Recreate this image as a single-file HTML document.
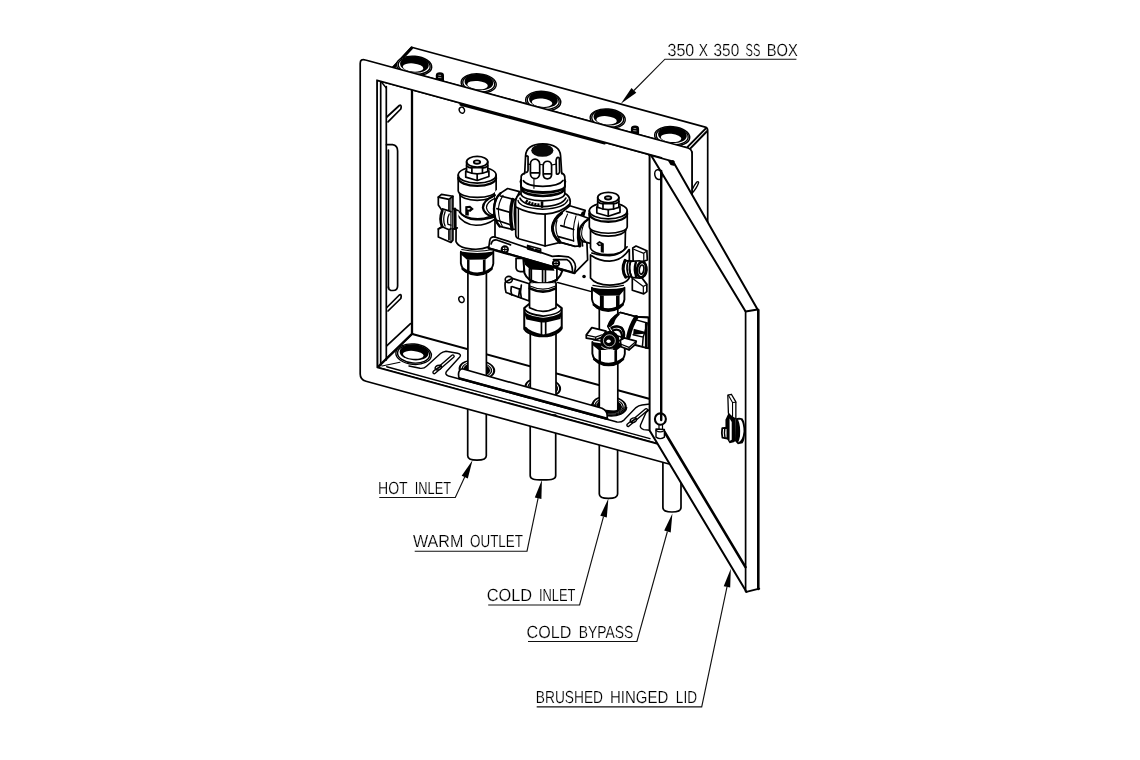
<!DOCTYPE html>
<html>
<head>
<meta charset="utf-8">
<title>350 x 350 SS Box</title>
<style>
html,body{margin:0;padding:0;background:#fff;}
body{width:1140px;height:760px;overflow:hidden;font-family:"Liberation Sans",sans-serif;}
svg{display:block;transform:translateZ(0);will-change:transform;}
.k{stroke:#000;stroke-width:1.7;fill:none;stroke-linecap:round;stroke-linejoin:round;}
.w{stroke:#000;stroke-width:1.7;fill:#fff;stroke-linecap:round;stroke-linejoin:round;}
.t{stroke:#000;stroke-width:1.4;fill:none;stroke-linecap:round;stroke-linejoin:round;}
.tw{stroke:#000;stroke-width:1.4;fill:#fff;stroke-linecap:round;stroke-linejoin:round;}
.b{stroke:#000;stroke-width:2.3;fill:none;stroke-linecap:round;stroke-linejoin:round;}
.f{fill:#000;stroke:none;}
.k,.w,.t,.tw,.b{vector-effect:non-scaling-stroke;}
.ld{stroke:#111;stroke-width:1.15;fill:none;}
.lb{-webkit-font-smoothing:antialiased;text-rendering:geometricPrecision;font-family:"Liberation Sans",sans-serif;font-size:17.5px;fill:#000;stroke:#fff;stroke-width:0.18;}
</style>
</head>
<body>
<svg width="1140" height="760" viewBox="0 0 1140 760">
<defs><filter id="gs" x="0" y="0" width="1140" height="760" filterUnits="userSpaceOnUse"><feColorMatrix type="saturate" values="0"/></filter></defs>
<rect x="0" y="0" width="1140" height="760" fill="#fff"/>

<!-- ===== BOX OUTER TOP FACE + RIGHT WALL ===== -->
<g id="boxtop">
<path class="w" d="M392.5,67.5 L411.6,47.2 L705.3,127.1 Q707.7,127.8 707.7,130.5 L707.7,225 L692,200 L692,152 L688,148 Z"/>
<path class="k" d="M687.6,146.9 L705.6,128.6" style="stroke-width:2"/>
<path class="k" d="M393.2,68 L411.8,48" style="stroke-width:2.6"/>
<path class="k" d="M690.2,148.6 L707,131.2" style="stroke-width:2"/>
</g>
<g id="gtop">
<path class="f" d="M435.8,81.6 L435.8,75.6 Q435.8,72.3 439.9,72.3 Q444.0,72.3 444.0,75.6 L444.0,81.6 Z"/><path d="M438.4,75.2 L441.1,75.4 M438.1,77.4 L441.4,77.7" stroke="#bbb" stroke-width="0.8" fill="none"/>
<path class="f" d="M630.9,134.8 L630.9,128.8 Q630.9,125.5 635.0,125.5 Q639.1,125.5 639.1,128.8 L639.1,134.8 Z"/><path d="M633.5,128.4 L636.2,128.6 M633.2,130.6 L636.5,130.9" stroke="#bbb" stroke-width="0.8" fill="none"/>
<g transform="translate(414.2,65.9) rotate(5) scale(1.0)"><ellipse class="tw" cx="0" cy="0" rx="17.6" ry="9.7"/><ellipse class="t" cx="0" cy="-0.2" rx="16" ry="8.6"/><ellipse class="f" cx="0.1" cy="-1.3" rx="14.4" ry="8"/><ellipse cx="-1" cy="1.7" rx="10.3" ry="4.1" fill="#fff"/></g>
<g transform="translate(478.7,83.5) rotate(5) scale(1.0)"><ellipse class="tw" cx="0" cy="0" rx="17.6" ry="9.7"/><ellipse class="t" cx="0" cy="-0.2" rx="16" ry="8.6"/><ellipse class="f" cx="0.1" cy="-1.3" rx="14.4" ry="8"/><ellipse cx="-1" cy="1.7" rx="10.3" ry="4.1" fill="#fff"/></g>
<g transform="translate(543.2,101.1) rotate(5) scale(1.0)"><ellipse class="tw" cx="0" cy="0" rx="17.6" ry="9.7"/><ellipse class="t" cx="0" cy="-0.2" rx="16" ry="8.6"/><ellipse class="f" cx="0.1" cy="-1.3" rx="14.4" ry="8"/><ellipse cx="-1" cy="1.7" rx="10.3" ry="4.1" fill="#fff"/></g>
<g transform="translate(607.7,118.7) rotate(5) scale(1.0)"><ellipse class="tw" cx="0" cy="0" rx="17.6" ry="9.7"/><ellipse class="t" cx="0" cy="-0.2" rx="16" ry="8.6"/><ellipse class="f" cx="0.1" cy="-1.3" rx="14.4" ry="8"/><ellipse cx="-1" cy="1.7" rx="10.3" ry="4.1" fill="#fff"/></g>
<g transform="translate(672.2,136.3) rotate(5) scale(1.0)"><ellipse class="tw" cx="0" cy="0" rx="17.6" ry="9.7"/><ellipse class="t" cx="0" cy="-0.2" rx="16" ry="8.6"/><ellipse class="f" cx="0.1" cy="-1.3" rx="14.4" ry="8"/><ellipse cx="-1" cy="1.7" rx="10.3" ry="4.1" fill="#fff"/></g>
</g>

<!-- ===== INTERIOR ===== -->
<g id="interior">
<path class="w" d="M377,80.2 L673.7,161.2 L673.7,448 L377.5,367.5 Z"/>
<!-- left wall verticals -->
<path class="k" d="M380.7,82 L380.7,365.5"/>
<path class="k" d="M386.3,86.5 L386.3,360"/><path class="t" d="M381,81.5 L386.3,88"/>
<path class="b" d="M412,91 L412,333.5"/>
<!-- back-top thick edge -->
<path class="b" d="M460.5,104.6 L604.5,143.4" style="stroke-width:2.2"/>
<!-- back-bottom edge -->
<path class="b" d="M412.3,334 L650,399" style="stroke-width:2"/>
<!-- floor left depth edge -->
<path class="k" d="M377.8,367.2 L412.3,333.7" style="stroke-width:2.3"/>
<path class="t" d="M386.2,359 L412.3,333.7"/>
</g>
<g id="intdet">
<ellipse class="t" cx="461.9" cy="110.2" rx="2.6" ry="3.1" transform="rotate(-25 461.9 110.2)"/>
<ellipse class="t" cx="461.5" cy="299.5" rx="2.6" ry="3.1" transform="rotate(-25 461.5 299.5)"/>
<path class="k" d="M386.5,144.7 L392.5,144.7 Q397.6,145.5 397.6,151 L397.6,286 Q397.6,290.5 393,290.5 L390.5,290.3 Q388.4,289.5 388.4,287"/>
<path class="k" d="M388.4,150 L388.4,288"/>
<path class="k" d="M386.8,117 L399.3,105.5 Q401.2,104.5 401.2,107 L400.8,109 L388,121.8"/>
<path class="k" d="M386.8,307.5 L399.3,295 Q401.2,293.8 401.2,296.5 L400.8,298.5 L388,311"/>
<path class="k" d="M386.7,345.9 L410.5,323.7"/>
<path class="t" d="M382,366 L400,362.2" style="stroke-width:1.1"/>
<g transform="translate(413.6,354.2) rotate(5)"><ellipse class="tw" cx="0" cy="0" rx="17.8" ry="10.2"/><ellipse class="t" cx="0" cy="-0.2" rx="16.1" ry="9"/><ellipse class="f" cx="0.3" cy="-1.6" rx="14.4" ry="7.7"/><ellipse cx="-0.3" cy="0.6" rx="10.4" ry="3.9" fill="#fff"/></g>
<path class="t" d="M409,366 L420,368.3 Q424,368.8 426.5,366.3 L440.5,353.6 Q442.5,351.8 446,351.2 L457.5,353.2 Q462,354.3 459.5,357.3 L446.5,371.5 Q444.5,374.5 448.5,376 L617,422.0 Q621,422.6 624,420.1 L636,407.6 Q638.5,405.4 642,405 L650,404"/>
<path class="t" d="M650,409.5 Q647.5,410.5 646,412.5 L640.5,425 Q639.5,428.3 643.7,429.6 L650,430.2"/>
<path class="t" d="M386.7,366.7 L650,438.6"/>
<path class="t" d="M435.2,373.3 L453.7,357.3 A1.3,1.3 0 0 0 451.9,355.3 L433.4,371.3 A1.3,1.3 0 0 0 435.2,373.3 Z"/>
<ellipse class="tw" cx="438.3" cy="367.6" rx="3.3" ry="2.2" transform="rotate(-20 438.3 367.6)"/><path class="k" d="M436,369.5 L441,366"/>
<path class="t" d="M628.8,426.3 L647.2,410.8 A1.3,1.3 0 0 0 645.6,408.8 L627.2,424.3 A1.3,1.3 0 0 0 628.8,426.3 Z"/>
<ellipse class="tw" cx="633.4" cy="420.2" rx="3.3" ry="2.2" transform="rotate(-20 633.4 420.2)"/><path class="k" d="M631,422 L636,418.5"/>
<g transform="rotate(5 476.9 369.6)"><ellipse class="f" cx="476.9" cy="369.6" rx="18.4" ry="10.2"/><ellipse cx="476.9" cy="369.6" rx="15.799999999999999" ry="8.4" fill="none" stroke="#fff" stroke-width="1.0"/><ellipse cx="476.9" cy="369.6" rx="13.799999999999999" ry="7.0" fill="none" stroke="#fff" stroke-width="0.7"/></g>
<g transform="rotate(5 542.8 387.6)"><ellipse class="f" cx="542.8" cy="387.6" rx="18.4" ry="10.2"/><ellipse cx="542.8" cy="387.6" rx="15.799999999999999" ry="8.4" fill="none" stroke="#fff" stroke-width="1.0"/><ellipse cx="542.8" cy="387.6" rx="13.799999999999999" ry="7.0" fill="none" stroke="#fff" stroke-width="0.7"/></g>
<g transform="rotate(5 609.2 405.8)"><ellipse class="f" cx="609.2" cy="405.8" rx="17.6" ry="10.2"/><ellipse cx="609.2" cy="405.8" rx="15.000000000000002" ry="8.4" fill="none" stroke="#fff" stroke-width="1.0"/><ellipse cx="609.2" cy="405.8" rx="13.000000000000002" ry="7.0" fill="none" stroke="#fff" stroke-width="0.7"/></g>
</g>
<!--VALVES_START--><g id="valves">
<g id="pipes_in">
<path class="w" d="M467.9,270 L467.9,382 L486.4,382 L486.4,270 Z" style="stroke:none"/><path class="k" d="M467.9,270 L467.9,378 M486.4,270 L486.4,383"/>
<path class="w" d="M530.3,283 L530.3,400 L556,400 L556,283 Z" style="stroke:none"/><path class="k" d="M530.3,283 L530.3,397 M556,283 L556,404"/>
<path class="w" d="M599.3,305 L599.3,409 L617.8,411 L617.8,305 Z" style="stroke:none"/><path class="k" d="M599.3,305 L599.3,408 M617.8,305 L617.8,410.5"/><g transform="rotate(5 609.2 405.8)"><path d="M591.6,405.8 A17.6,10.2 0 0 0 626.8,405.8" class="k" style="stroke-width:1.3"/><path d="M594.2,405.8 A15,8.4 0 0 0 624.2,405.8" class="k" style="stroke-width:1.1"/><path d="M597.6,406 A11.6,6.2 0 0 0 620.8,406" class="b" style="stroke-width:2.4"/></g>
</g>
<g transform="translate(0,0)">
<g transform="translate(430,235) scale(0.088183)" >

<path d="M350,150 L350,320 Q362,385 410,420 Q470,455 535,455 Q600,455 660,420 Q708,385 718,325 L718,150 Z" fill="#fff"/>
<path class="k" d="M360,165 Q535,205 708,165" style="stroke-width:1.1"/>
<path class="f" d="M350,188 Q535,222 718,188 L718,214 L630,279 L420,281 L352,222 Z"/>
<path class="f" d="M420,278 L448,282 L448,432 L420,420 Z M600,282 L630,278 L630,420 L600,432 Z"/>
<path class="b" d="M372,384 Q450,440 535,440 Q620,440 696,384" style="stroke-width:2.8"/>
<path class="k" d="M350,190 L350,320 Q362,385 410,420 Q470,455 535,455 Q600,455 660,420 Q708,385 718,325 L718,190" style="stroke-width:1.9"/>
</g>
<g transform="translate(430,190) scale(0.088183)" >

<path class="w" d="M340,20 L345,250 A197,85 0 0 0 737,250 L737,20 Z"/>
<path class="k" d="M335,37 A200,80 0 0 0 735,37"/>
<path class="w" d="M297,268 L295,585 Q330,668 520,672 Q680,668 737,590 L737,330 Q640,400 520,400 Q380,395 300,268 Z"/>
<path class="k" d="M322,238 Q400,335 520,337 Q650,335 722,308"/>
</g>
<g transform="translate(430,145) scale(0.088183)" >

<path class="w" d="M320,340 A215,92 0 0 1 750,340 L750,520 A215,74 0 0 1 320,520 Z"/>
<path class="k" d="M320,340 A215,92 0 0 0 750,340"/>
<path class="b" d="M321,374 A214,90 0 0 0 749,374"/>
<path class="w" d="M405,296 L405,365 L535,402 L668,357 L668,292 L655,300 L415,300 Z"/>
<path class="k" d="M535,330 L535,400"/>
<path class="w" d="M415,190 A120,60 0 0 1 655,190 L655,300 Q600,327 535,327 Q470,327 415,300 Z"/>
<path class="k" d="M415,190 A120,60 0 0 0 655,190"/>
<path class="k" d="M415,236 Q445,264 475,258 L595,258 Q625,264 655,236"/>
<path class="k" d="M475,258 L475,318 M595,258 L595,318"/>
<ellipse class="k" cx="533" cy="193" rx="36" ry="19" style="stroke-width:1.9"/>
</g>
</g>
<g transform="translate(430,190) scale(0.088183)" >

<path class="w" d="M737,20 L737,330 L800,330 L800,-40 Z" style="stroke:none"/>
<path class="b" d="M735,60 Q600,120 600,200 Q610,280 722,305"/>
<path class="k" d="M735,95 Q640,140 640,200 Q650,260 722,290" style="stroke-width:1.2"/>
</g>
<g transform="translate(432,188) scale(0.078927)" >

<path class="w" d="M80,115 L120,80 L265,105 L265,660 L240,690 L80,622 L80,520 L130,490 Q90,400 130,290 L80,215 Z"/>
<path class="k" d="M80,115 L215,145 L265,105 M215,145 L215,290 L130,265 M215,290 L240,300"/>
<path class="k" d="M80,520 L130,490 L215,530 L215,655 M215,530 L240,515"/>
<path class="k" d="M240,135 L240,690" style="stroke-width:1.2"/>
<path class="b" d="M130,288 Q88,400 130,492" style="stroke-width:2.8"/>
<path class="k" d="M166,300 Q130,400 166,482" style="stroke-width:1.3"/>
<path class="k" d="M218,330 Q185,400 204,462 L240,470" style="stroke-width:1.3"/>
<path class="w" d="M265,262 L335,282 L335,500 L265,520 Z" style="stroke:none"/>
<path class="b" d="M290,268 L292,512" style="stroke-width:3.2"/>
<path class="k" d="M265,262 L330,285 M265,520 L320,505"/>
</g>
<g transform="translate(430,190) scale(0.088183)" >

<path class="f" d="M400,185 L455,178 L497,215 L455,250 L440,240 L440,290 L400,290 Z"/>
<path d="M425,205 L460,208 L445,225 L425,222 Z" fill="#fff"/>
</g>
<g transform="translate(485,232) scale(0.105263)" >

<path class="w" d="M295,250 L295,340 Q300,372 335,376 L370,376 L370,250 Z"/>
<path class="w" d="M430,440 L430,760 L668,760 L668,440 Z"/>
<path class="k" d="M432,482 Q545,560 666,486"/>
<path class="b" d="M434,548 Q545,625 666,552" style="stroke-width:2.4"/>
<path class="w" d="M365,262 L375,390 Q390,430 420,450 Q480,490 545,490 Q620,488 680,455 Q720,420 735,368 L690,345 Z" style="stroke-width:2"/>
<path class="f" d="M365,258 L650,340 L660,368 L430,356 L380,310 Z"/>
<path class="k" d="M422,350 L422,448 M440,352 L440,458 M547,362 L547,488 M574,362 L574,486 M683,355 L683,452"/>
<path class="b" d="M420,450 Q480,490 545,490 Q620,488 680,455"/>
</g>
<g transform="translate(485,232) scale(0.105263)" >

<path class="w" d="M192,478 Q186,525 200,575 L420,655 L420,492 L258,440 Z"/>
<ellipse class="b" cx="226" cy="452" rx="34" ry="30" style="stroke-width:1.6" fill="#fff"/>
<path class="k" d="M250,520 Q240,560 255,598 M330,540 L318,620 M262,520 L335,545 M345,505 Q330,570 345,628"/>
</g>
<g transform="translate(500,285) scale(0.088183)" >

<path class="w" d="M330,215 L275,262 L275,500 Q300,545 400,572 Q490,592 580,572 Q670,545 700,492 L700,262 L640,215 Z" style="stroke-width:2"/>
<path class="k" d="M278,268 Q300,332 490,352 Q680,332 698,268"/>
<path class="f" d="M280,292 Q300,352 490,370 Q680,352 697,292 L697,335 L685,385 L520,425 L465,425 L300,392 L280,335 Z"/>
<path class="k" d="M470,425 L470,566 M518,425 L518,563"/>
<path class="b" d="M290,488 Q330,545 490,575 Q650,545 692,483" style="stroke-width:2.4"/>
<path class="w" d="M335,-20 L335,258 Q490,338 635,258 L635,-20 Z" style="stroke:none"/>
<path class="k" d="M335,-20 L335,258 Q490,338 635,258 L635,-20"/>
<path class="b" d="M338,38 Q490,112 632,38" style="stroke-width:2.6"/>
<path class="k" d="M338,12 Q490,80 632,12" style="stroke-width:1.2"/>
</g>
<g transform="translate(485,232) scale(0.105263)" >

<path class="k" d="M850,390 L975,265 L968,95"/>
<circle cx="941" cy="423" r="17" fill="#000"/>
<path class="t" d="M690,480 L1135,600"/>
<path class="w" d="M35,152 L45,82 Q50,42 92,48 L232,92 L640,232 L700,226 L790,236 Q855,265 860,330 L850,390 Z"/>
<path class="k" d="M58,114 Q68,72 112,76 L242,122 M650,262 L780,263 Q828,285 832,372"/>
<path class="b" d="M35,155 L850,390"/>
<circle class="b" cx="188" cy="166" r="30" style="stroke-width:2"/><path class="k" d="M188,140 L188,192 M162,166 L214,166" style="stroke-width:1.1"/>
<circle class="b" cx="675" cy="298" r="30" style="stroke-width:2"/><path class="k" d="M675,272 L675,324 M649,298 L701,298" style="stroke-width:1.1"/>
<path class="k" d="M405,128 L528,162 L528,196 L405,160 Z"/>
<path class="k" d="M420,150 L455,160 M480,168 L515,178" style="stroke-width:2"/>
</g>
<g transform="translate(490,185) scale(0.088183)" >

<path class="w" d="M120,92 L200,40 L335,75 L292,170 L292,500 L255,505 L110,470 Q45,400 45,270 Q52,150 120,92 Z"/>
<path class="b" d="M120,92 Q52,150 45,270 Q45,400 110,470"/>
<path class="k" d="M118,125 L285,168 M78,268 L232,312 M78,400 L232,452"/>
<path class="k" d="M148,118 Q95,200 95,290 Q100,400 140,468" style="stroke-width:1.1"/>
<path class="b" d="M258,165 Q215,300 250,500" style="stroke-width:3.4"/>
<path class="k" d="M290,160 Q262,320 292,500"/>
</g>
<g transform="translate(490,185) scale(0.088183)" >

<path class="w" d="M290,190 Q295,120 352,95 L848,95 Q905,120 910,190 Q905,255 845,290 L845,640 L625,692 L335,612 Q292,600 292,560 Z"/>
<path class="k" d="M292,250 Q450,332 625,330 Q800,322 908,215"/>
<path class="t" d="M318,175 Q330,260 600,275 Q850,262 882,170"/>
<path class="k" d="M340,150 Q380,235 600,245 Q820,232 860,148"/>
<path class="k" d="M625,330 L625,692"/>
<path class="t" d="M322,268 L322,603"/>
<path class="k" d="M845,290 L845,640"/>
<path d="M405,180 Q470,222 560,228" stroke="#000" stroke-width="3.2" fill="none" stroke-dasharray="2.2 0.9" vector-effect="non-scaling-stroke"/>
<path class="b" d="M590,198 L590,246" style="stroke-width:2.6"/>
</g>
<g transform="translate(490,185) scale(0.088183)" >

<path class="w" d="M352,-60 L352,100 A248,80 0 0 0 848,100 L848,-60 Z"/>
<path class="b" d="M354,-40 A246,75 0 0 0 846,-40" style="stroke-width:3.4"/>
<path class="b" d="M358,8 A242,75 0 0 0 842,8" style="stroke-width:3.4"/>
<path class="b" d="M366,52 A234,72 0 0 0 834,52" style="stroke-width:2.6"/>
<path d="M670,72 L800,40" stroke="#fff" stroke-width="0.9" fill="none" vector-effect="non-scaling-stroke"/>
</g>
<g transform="translate(500,135) scale(0.088183)" >

<path d="M240,470 Q242,445 282,430 L700,430 Q733,445 735,475 L735,580 A248,72 0 0 1 240,575 Z" fill="#fff"/>
<path class="k" d="M282,432 Q242,445 240,470 L240,575 A248,72 0 0 0 735,580 L735,475 Q733,445 700,432"/>
<path d="M280,437 L290,235 Q295,105 485,100 Q680,105 687,235 L700,437 Z" fill="#fff"/>
<path class="k" d="M280,437 L290,235 Q295,105 485,100 Q680,105 687,235 L700,437"/>
<ellipse cx="480" cy="176" rx="126" ry="72" fill="#0a0a0a"/>
<path class="k" d="M265,518 Q300,580 485,583 Q670,580 715,516"/>
<path class="k" d="M292,245 Q305,228 318,245 L318,400 Q308,432 294,420"/>
<path class="k" d="M345,330 A52,55 0 0 1 450,330 L450,440 A52,55 0 0 1 345,440 Z M353,430 L442,430"/>
<path class="k" d="M490,342 A48,52 0 0 1 585,342 L585,453 A48,52 0 0 1 490,453 Z M497,440 L578,440"/>
<path class="k" d="M636,285 Q648,238 673,262 L676,420 Q662,455 640,440 Z"/>
<path class="k" d="M450,335 L490,338 M318,330 L345,335 M585,340 L636,330" style="stroke-width:1.1"/>
<path class="k" d="M385,497 L385,605" style="stroke-width:1.1"/>
</g>
<g transform="translate(490,185) scale(0.088183)" >

<path class="w" d="M845,285 L905,235 L1078,288 L1045,340 Q985,500 1020,690 L960,695 L790,648 Q700,560 705,480 Q720,370 800,320 Z"/>
<path class="b" d="M812,318 Q720,390 708,480 Q705,570 792,650" style="stroke-width:3.0"/>
<path class="k" d="M760,400 Q735,480 760,560 Q780,610 800,640" style="stroke-width:1.2"/>
<path class="k" d="M868,300 L1040,348 M803,460 L950,505 M775,585 L945,632 M790,648 L960,695"/>
<path class="b" d="M1055,320 Q975,500 1018,690" style="stroke-width:3.4"/>
<path class="k" d="M1078,290 Q1010,500 1050,690"/>
<path class="k" d="M880,330 Q840,400 838,470 M975,350 Q930,500 950,640" style="stroke-width:1.1"/>
</g>
<g transform="translate(560,185) scale(0.088183)" >

<path class="w" d="M200,330 L340,380 L340,650 L240,640 Z" style="stroke:none"/>
<path class="k" d="M205,335 L345,385"/>
<path class="b" d="M325,385 Q215,450 215,560 Q225,620 260,640"/>
<path class="k" d="M300,400 Q245,470 245,560 Q250,610 290,640" style="stroke-width:1.1"/>
<path class="k" d="M255,640 L345,662"/>
</g>
<g transform="translate(131.1,35.85)">
<g transform="translate(430,235) scale(0.088183)" >

<path d="M350,150 L350,320 Q362,385 410,420 Q470,455 535,455 Q600,455 660,420 Q708,385 718,325 L718,150 Z" fill="#fff"/>
<path class="k" d="M360,165 Q535,205 708,165" style="stroke-width:1.1"/>
<path class="f" d="M350,188 Q535,222 718,188 L718,214 L663,279 L440,281 L352,222 Z"/>
<path class="f" d="M440,278 L484,282 L484,432 L440,420 Z M623,282 L663,278 L663,420 L623,432 Z"/>
<path class="b" d="M372,384 Q450,440 535,440 Q620,440 696,384" style="stroke-width:2.8"/>
<path class="k" d="M350,190 L350,320 Q362,385 410,420 Q470,455 535,455 Q600,455 660,420 Q708,385 718,325 L718,190" style="stroke-width:1.9"/>
</g>
<g transform="translate(954.4,0) scale(-1,1)"><g transform="translate(430,190) scale(0.088183)" >

<path class="w" d="M340,20 L345,250 A197,85 0 0 0 737,250 L737,20 Z"/>
<path class="k" d="M335,37 A200,80 0 0 0 735,37"/>
<path class="w" d="M297,268 L295,585 Q330,668 520,672 Q680,668 737,590 L737,330 Q640,400 520,400 Q380,395 300,268 Z"/>
<path class="k" d="M322,238 Q400,335 520,337 Q650,335 722,308"/>
</g>
</g><g transform="translate(430,145) scale(0.088183)" >

<path class="w" d="M320,340 A215,92 0 0 1 750,340 L750,520 A215,74 0 0 1 320,520 Z"/>
<path class="k" d="M320,340 A215,92 0 0 0 750,340"/>
<path class="b" d="M321,374 A214,90 0 0 0 749,374"/>
<path class="w" d="M405,296 L405,365 L535,402 L668,357 L668,292 L655,300 L415,300 Z"/>
<path class="k" d="M535,330 L535,400"/>
<path class="w" d="M415,190 A120,60 0 0 1 655,190 L655,300 Q600,327 535,327 Q470,327 415,300 Z"/>
<path class="k" d="M415,190 A120,60 0 0 0 655,190"/>
<path class="k" d="M415,236 Q445,264 475,258 L595,258 Q625,264 655,236"/>
<path class="k" d="M475,258 L475,318 M595,258 L595,318"/>
<ellipse class="k" cx="533" cy="193" rx="36" ry="19" style="stroke-width:1.9"/>
</g>
</g>
<g transform="translate(560,235) scale(0.088183)" >

<path class="w" d="M735,290 Q690,390 745,475 L850,470 L850,300 Z"/>
<path class="b" d="M738,288 Q690,390 745,478" style="stroke-width:3"/>
<path class="k" d="M775,290 Q740,385 785,480"/>
<path class="w" d="M825,147 L862,125 L985,178 L990,282 L945,300 L905,330 L830,300 Z"/>
<path class="k" d="M836,162 L950,208 L985,180 M950,208 L950,296" style="stroke-width:1.2"/>
<path class="w" d="M820,487 L905,455 L985,560 L985,642 L950,668 L820,626 Z"/>
<path class="k" d="M832,500 L945,585 L945,660 M945,585 L985,562" style="stroke-width:1.2"/>
<path class="w" d="M800,300 Q770,390 815,480 L905,490 Q985,480 985,395 Q980,300 900,292 Z"/>
<path class="k" d="M800,300 Q770,390 815,480"/>
<ellipse class="b" cx="925" cy="392" rx="52" ry="88" transform="rotate(8 925 392)" style="stroke-width:2.6"/>
<ellipse class="k" cx="925" cy="392" rx="26" ry="52" transform="rotate(8 925 392)"/>
<path class="b" d="M860,310 Q835,390 865,475" style="stroke-width:2.4"/>
</g>
<g transform="translate(560,235) scale(0.088183)" >

<path class="f" d="M497,95 L497,202 L462,196 L462,122 L440,128 L410,96 L446,68 Z"/>
<path d="M435,92 L462,98 L462,108 L445,108 Z" fill="#fff"/>
</g>
<g transform="translate(131.5,90.3)"><g transform="translate(430,235) scale(0.088183)" >

<path d="M350,150 L350,320 Q362,385 410,420 Q470,455 535,455 Q600,455 660,420 Q708,385 718,325 L718,150 Z" fill="#fff"/>
<path class="k" d="M360,165 Q535,205 708,165" style="stroke-width:1.1"/>
<path class="f" d="M350,188 Q535,222 718,188 L718,214 L630,279 L420,281 L352,222 Z"/>
<path class="f" d="M420,278 L448,282 L448,432 L420,420 Z M600,282 L630,278 L630,420 L600,432 Z"/>
<path class="b" d="M372,384 Q450,440 535,440 Q620,440 696,384" style="stroke-width:2.8"/>
<path class="k" d="M350,190 L350,320 Q362,385 410,420 Q470,455 535,455 Q600,455 660,420 Q708,385 718,325 L718,190" style="stroke-width:1.9"/>
</g>
</g>
<g transform="translate(580,300) scale(0.078989)" >

<path class="w" d="M350,335 Q380,230 490,165 L515,158 L720,213 L865,215 L865,615 L700,575 L600,500 L400,420 Z" style="stroke-width:1.4"/>
<path class="f" d="M492,163 Q380,225 345,332 L380,345 L430,300 Q450,230 505,185 Z"/>
<path class="k" d="M515,158 L720,213 L865,225"/>
<path class="b" d="M712,218 Q640,330 612,468" style="stroke-width:4.4"/>
<path class="f" d="M680,365 L822,402 L815,428 L672,440 Z"/>
<path class="k" d="M722,255 L852,290 L822,402 L800,470 L790,590 M672,440 L800,470 M690,562 L790,590 L865,612" style="stroke-width:1.5"/>
<path class="b" d="M838,300 L838,600" style="stroke-width:2.6"/>
<path class="w" d="M80,442 L150,350 L330,395 L282,470 L200,503 L80,484 Z" style="stroke-width:1.8"/>
<path class="k" d="M82,446 L198,470 L280,440 M198,470 L200,503" style="stroke-width:1.3"/>
<path class="w" d="M510,510 L560,480 L712,520 L702,562 L622,632 L520,592 Z" style="stroke-width:1.8"/>
<path class="k" d="M520,560 L620,600 L705,528 M620,600 L622,632" style="stroke-width:1.3"/>
<path class="w" d="M395,350 Q470,310 530,350 Q575,400 555,480 L440,440 Z" style="stroke-width:1.2"/>
<path class="b" d="M402,352 Q470,318 525,352 Q568,400 552,470" style="stroke-width:2.6"/>
<path class="b" d="M420,385 Q470,362 508,392 Q540,430 528,490" style="stroke-width:2.2"/>
<circle cx="378" cy="512" r="122" fill="#000"/>
<circle cx="372" cy="516" r="76" fill="none" stroke="#fff" stroke-width="0.7" vector-effect="non-scaling-stroke"/>
<ellipse cx="362" cy="522" rx="27" ry="21" fill="#fff"/>
<path d="M270,585 Q330,640 420,622" stroke="#fff" stroke-width="0.9" fill="none" vector-effect="non-scaling-stroke"/>
</g>
</g>
<!--VALVES_END-->
<g id="rail">
<path class="w" d="M462.3,368.8 L602,408.3 Q607.2,410.9 607.2,415.7 L607.2,418.7 L459.5,378.4 Q458.5,377.2 458.5,374.2 Q458.6,369.8 462.3,368.8 Z"/>
<path class="b" d="M459.5,378.4 L607.2,418.7" style="stroke-width:2.5"/>
</g>

<!-- ===== PIPES BELOW BOX ===== -->
<g id="pipes">
<path class="w" d="M467.7,400 L467.7,455.70000000000005 C467.7,459.1 470.7,460.1 477.0,460.1 C483.3,460.1 486.3,459.1 486.3,455.70000000000005 L486.3,400 Z"/>
<path class="w" d="M530.2,415 L530.2,475.5 C530.2,478.9 533.2,479.9 542.95,479.9 C552.7,479.9 555.7,478.9 555.7,475.5 L555.7,415 Z"/>
<path class="w" d="M599.3,435 L599.3,494.0 C599.3,497.4 602.3,498.4 608.45,498.4 C614.6,498.4 617.6,497.4 617.6,494.0 L617.6,435 Z"/>
<path class="w" d="M662.9,450 L662.9,507.6 C662.9,511 665.9,512 671.95,512 C678,512 681,511 681,507.6 L681,450 Z"/>
</g>

<!-- ===== FLANGE (front frame) ===== -->
<g id="flange">
<path class="w" fill-rule="evenodd" d="M360.2,63.5 Q360.2,58.3 365.5,60 L688,148 Q692,149.3 692,153.5 L692,470 L666.3,463.2 L366,381.3 Q360.2,379.6 360.2,374 Z
 M377,80.2 L377.3,367.4 L661.5,444.9 L661.5,157.9 Z"/>
</g>

<!-- ===== DOOR ===== -->
<g id="door">
<path d="M650,155 L672.8,161 L757.3,309.3 L759.6,311.5 L759.4,588.8 L746.6,592 L650,431 Z" fill="#fff" stroke="none"/>
<path class="k" d="M672.8,161 L757.6,309.5" style="stroke-width:2"/>
<path class="k" d="M651.5,156 L745.6,311.6 L757.6,309.5" style="stroke-width:2"/>
<path class="k" d="M648.5,154.7 L673.8,161.6"/>
<path class="f" d="M667.5,160 L673.8,161.6 L674.6,166 L670.5,165 Z"/>
<path class="k" d="M745.6,311.6 L745.6,591.5"/>
<path class="k" d="M758.3,310 L758.3,589" style="stroke-width:2.6"/>
<path class="k" d="M746.3,591.8 L759.3,588.6" style="stroke-width:1.8"/>
<path class="k" d="M661.2,171 L661.2,420" style="stroke-width:2.4"/>
<path class="k" d="M664.3,431.5 L745.5,567.2" style="stroke-width:2.6"/>
<path class="k" d="M649.6,155 L649.6,430.5 L746.4,591.8" style="stroke-width:2"/>
<ellipse class="k" cx="658.4" cy="174.6" rx="3.6" ry="5" transform="rotate(-12 658.4 174.6)" style="stroke-width:1.5"/>
</g>
<g id="lock" transform="translate(700,370) scale(0.11834)">
<path class="w" d="M235,212 L265,205 L303,270 L303,412 L268,400 L240,365 Z" style="stroke-width:1.3"/>
<path class="k" d="M240,214 L275,275 L303,272 M275,275 L275,398" style="stroke-width:1.1"/>
<path class="f" d="M240,365 L215,420 L215,560 L250,620 L285,610 L300,600 L300,410 Z"/>
<path d="M250,410 L268,440 L268,590 L250,600 Z" fill="#fff"/>
<path class="f" d="M300,410 Q330,395 360,410 Q382,440 382,520 Q380,590 360,620 L320,628 L296,600 Z"/>
<path d="M322,420 Q345,470 338,560 Q330,600 322,612 Q360,600 368,520 Q368,450 345,420 Z" fill="#fff"/>
<path class="w" d="M188,492 Q180,530 190,572 L232,580 L232,488 Z" style="stroke-width:1.8"/>
<path class="k" d="M210,492 Q202,535 212,578" style="stroke-width:1.4"/>
</g>
<g id="hinge2">
<ellipse class="k" cx="660.4" cy="419.1" rx="5.5" ry="5.7" style="stroke-width:2.1;fill:none"/>
<path class="w" d="M656,429 L656,437.2 Q660.2,440 664.4,437.2 L664.4,429.5 Z" style="stroke-width:1.4"/><path class="k" d="M659,424.5 L659,429 M662.5,424.5 L662.5,429" style="stroke-width:1.2"/>
<path class="k" d="M656,430.5 Q660.2,433.3 664.4,430.5" style="stroke-width:1.1"/>
</g>
<path class="k" d="M692.3,193 Q697.5,187 698.6,182.5 Q698.3,181 696.8,182 Q693.5,186 692.3,189.5" style="stroke-width:1.3"/>

<!-- ===== LABELS ===== -->
<g id="labels" style="opacity:0.999">
<text class="lb" x="667.50" y="55.6" textLength="26.68" lengthAdjust="spacingAndGlyphs">350</text>
<text class="lb" x="698.80" y="55.6" textLength="9.23" lengthAdjust="spacingAndGlyphs">X</text>
<text class="lb" x="713.60" y="55.6" textLength="25.58" lengthAdjust="spacingAndGlyphs">350</text>
<text class="lb" x="745.50" y="55.6" textLength="14.79" lengthAdjust="spacingAndGlyphs">SS</text>
<text class="lb" x="766.80" y="55.6" textLength="31.03" lengthAdjust="spacingAndGlyphs">BOX</text>
<path class="ld" d="M796.4,59.2 L664.9,59.2 L633.9,90.5"/>
<path class="f" d="M620.8,103.7 L631.5,88.1 L636.3,92.8 Z"/>
<text class="lb" x="378.00" y="493.9" textLength="29.71" lengthAdjust="spacingAndGlyphs">HOT</text>
<text class="lb" x="414.70" y="493.9" textLength="36.39" lengthAdjust="spacingAndGlyphs">INLET</text>
<path class="ld" d="M379.3,497.5 L455.3,497.5 L464.7,477.1"/>
<path class="f" d="M472.5,460.2 L467.8,478.5 L461.7,475.7 Z"/>
<text class="lb" x="413.00" y="546.9" textLength="50.38" lengthAdjust="spacingAndGlyphs">WARM</text>
<text class="lb" x="470.00" y="546.9" textLength="53.00" lengthAdjust="spacingAndGlyphs">OUTLET</text>
<path class="ld" d="M414.7,551.2 L527,551.2 L538.1,498.2"/>
<path class="f" d="M541.9,480.0 L541.4,498.9 L534.8,497.5 Z"/>
<text class="lb" x="486.70" y="601.3" textLength="45.47" lengthAdjust="spacingAndGlyphs">COLD</text>
<text class="lb" x="538.90" y="601.3" textLength="36.49" lengthAdjust="spacingAndGlyphs">INLET</text>
<path class="ld" d="M488.2,605 L579.6,605 L603.5,516.6"/>
<path class="f" d="M608.4,498.6 L606.8,517.4 L600.3,515.7 Z"/>
<text class="lb" x="526.50" y="637.9" textLength="44.77" lengthAdjust="spacingAndGlyphs">COLD</text>
<text class="lb" x="578.70" y="637.9" textLength="54.57" lengthAdjust="spacingAndGlyphs">BYPASS</text>
<path class="ld" d="M528,641.5 L636.9,641.5 L667.4,531.5"/>
<path class="f" d="M672.4,513.6 L670.7,532.4 L664.2,530.6 Z"/>
<text class="lb" x="535.80" y="702.6" textLength="67.20" lengthAdjust="spacingAndGlyphs">BRUSHED</text>
<text class="lb" x="610.00" y="702.6" textLength="58.29" lengthAdjust="spacingAndGlyphs">HINGED</text>
<text class="lb" x="675.80" y="702.6" textLength="21.22" lengthAdjust="spacingAndGlyphs">LID</text>
<path class="ld" d="M536.7,706.8 L701.7,706.8 L727.0,586.9"/>
<path class="f" d="M730.8,568.7 L730.2,587.6 L723.7,586.2 Z"/>
</g>
</svg>
</body>
</html>
